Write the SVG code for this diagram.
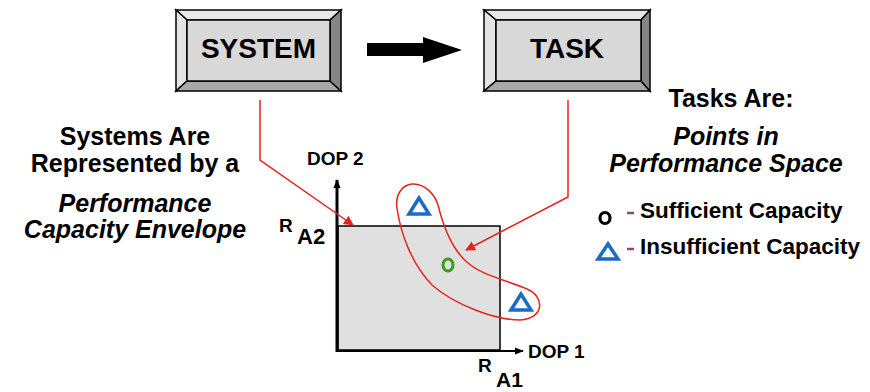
<svg xmlns="http://www.w3.org/2000/svg" width="870" height="392" viewBox="0 0 870 392">
<defs>
<style>
.t{font-family:"Liberation Sans",Arial,sans-serif;font-weight:bold;fill:#000}
.big{font-size:25px}
.it{font-style:italic}
.red{fill:none;stroke:#e8221e;stroke-width:1.5}
.bev{stroke:#000;stroke-width:1.5;stroke-linejoin:miter}
.tri{fill:none;stroke:#1a6cc4;stroke-width:3.5;stroke-linejoin:miter}
</style>
<marker id="ah" viewBox="0 0 10 10" refX="9" refY="5" markerWidth="10" markerHeight="10" markerUnits="userSpaceOnUse" orient="auto">
<path d="M0,0 L10,5 L0,10 z" fill="#e8221e"/>
</marker>
<marker id="bk" viewBox="0 0 10 10" refX="9" refY="5" markerWidth="9" markerHeight="9" markerUnits="userSpaceOnUse" orient="auto">
<path d="M0,1 L10,5 L0,9 z" fill="#000"/>
</marker>
</defs>
<rect width="870" height="392" fill="#fff"/>

<g id="system">
<polygon points="176,10 341,10 330,20 187,20" fill="#e8e8e8" class="bev"/>
<polygon points="176,10 187,20 187,81 176,91" fill="#e4e4e4" class="bev"/>
<polygon points="176,91 187,81 330,81 341,91" fill="#a8a8a8" class="bev"/>
<polygon points="341,10 341,91 330,81 330,20" fill="#858585" class="bev"/>
<rect x="187" y="20" width="143" height="61" fill="#d8d8d8" class="bev"/>
<text class="t" x="258.5" y="58" font-size="28" text-anchor="middle">SYSTEM</text>
</g>

<g id="task">
<polygon points="484,10 650,10 641,20 496,20" fill="#e8e8e8" class="bev"/>
<polygon points="484,10 496,20 496,81 484,91" fill="#e4e4e4" class="bev"/>
<polygon points="484,91 496,81 641,81 650,91" fill="#a8a8a8" class="bev"/>
<polygon points="650,10 650,91 641,81 641,20" fill="#858585" class="bev"/>
<rect x="496" y="20" width="145" height="61" fill="#d8d8d8" class="bev"/>
<text class="t" x="567" y="58" font-size="28" text-anchor="middle">TASK</text>
</g>

<g id="bigarrow">
<polygon points="367,43 423,43 423,37 462,50 423,63 423,56 367,56" fill="#000"/>
</g>

<g id="left-label">
<text class="t big" x="135" y="145" text-anchor="middle">Systems Are</text>
<text class="t big" x="135" y="172" text-anchor="middle">Represented by a</text>
<text class="t big it" x="135" y="212" text-anchor="middle">Performance</text>
<text class="t big it" x="135" y="238" text-anchor="middle">Capacity Envelope</text>
</g>

<g id="right-label">
<text class="t big" x="731" y="107" text-anchor="middle">Tasks Are:</text>
<text class="t big it" x="726" y="145" text-anchor="middle">Points in</text>
<text class="t big it" x="726" y="172" text-anchor="middle">Performance Space</text>
</g>

<g id="legend">
<ellipse cx="605" cy="218" rx="5" ry="5.5" fill="none" stroke="#000" stroke-width="3.2"/>
<line x1="627" y1="213" x2="634" y2="213" stroke="#8a4a6e" stroke-width="2.5"/>
<text class="t" x="640" y="218" font-size="22.5">Sufficient Capacity</text>
<polygon points="608,244 598,259 618,259" class="tri"/>
<line x1="627" y1="249" x2="634" y2="249" stroke="#8a4a6e" stroke-width="2.5"/>
<text class="t" x="640" y="254" font-size="22.5">Insufficient Capacity</text>
</g>

<g id="envelope">
<rect x="338" y="226" width="162" height="124" fill="#e0e0e0" stroke="#000" stroke-width="1.5"/>
</g>

<g id="axes">
<line x1="337" y1="352" x2="337" y2="180" stroke="#000" stroke-width="3" marker-end="url(#bk)"/>
<line x1="336" y1="351" x2="523" y2="351" stroke="#000" stroke-width="2" marker-end="url(#bk)"/>
<text class="t" x="307" y="165" font-size="19">DOP 2</text>
<text class="t" x="528" y="358" font-size="19">DOP 1</text>
<text class="t" x="279" y="232" font-size="19">R</text>
<text class="t" x="297" y="244" font-size="22">A2</text>
<text class="t" x="478" y="372" font-size="19">R</text>
<text class="t" x="496" y="387" font-size="21">A1</text>
</g>

<g id="task-region">
<path class="red" d="M412,184 C425,183 435,195 438,205 C443,225 452,250 468,263 C480,274 505,280 527,289 C544,296 546,318 520,320 C495,320 455,305 432,285 C410,262 400,230 397,208 C395,195 402,185 412,184 Z"/>
<polygon points="419,198 409,214 429,214" class="tri"/>
<polygon points="521,294 511,310 531,310" class="tri"/>
<ellipse cx="448" cy="265" rx="5" ry="6" fill="none" stroke="#3d9c1c" stroke-width="3"/>
</g>

<g id="connectors">
<polyline class="red" points="260,100 260,160 353,225" marker-end="url(#ah)"/>
<polyline class="red" points="568,100 568,197 466,250" marker-end="url(#ah)"/>
</g>
</svg>
